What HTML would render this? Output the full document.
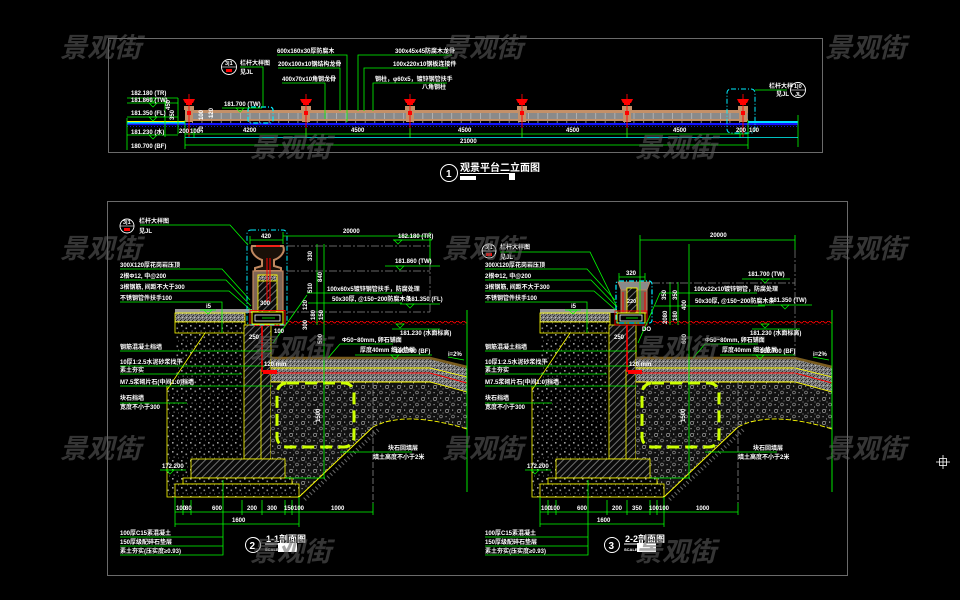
<!DOCTYPE html>
<html><head><meta charset="utf-8"><style>
html,body{margin:0;padding:0;background:#000;}
svg{display:block}
text{font-family:"Liberation Sans","Noto Sans CJK SC",sans-serif;fill:#fff;font-size:6px;font-weight:bold}
.t{font-size:5.5px}
.wm{font-family:"Liberation Sans","Noto Sans CJK SC",sans-serif;font-size:27px;font-style:italic;font-weight:bold;fill:#606060;fill-opacity:.55}
</style></head><body>
<svg width="960" height="600" viewBox="0 0 960 600" xmlns="http://www.w3.org/2000/svg">
<defs>
<pattern id="dots" width="9" height="9" patternUnits="userSpaceOnUse">
 <rect width="9" height="9" fill="#000"/>
 <rect x="1" y="1" width="1.6" height="1.6" fill="#a0a0a0"/>
 <rect x="5.5" y="3.5" width="1.6" height="1.6" fill="#8c8c8c"/>
 <rect x="2.5" y="6.5" width="1.2" height="1.2" fill="#7a7a7a"/>
 <rect x="7" y="7.5" width="1" height="1" fill="#666"/>
</pattern>
<pattern id="fine" width="4" height="4" patternUnits="userSpaceOnUse">
 <rect width="4" height="4" fill="#808080"/>
 <rect x="0" y="0" width="1" height="1" fill="#222"/>
 <rect x="2" y="1" width="1" height="1" fill="#c0c0c0"/>
 <rect x="1" y="3" width="1" height="1" fill="#333"/>
 <rect x="3" y="2" width="1" height="1" fill="#444"/>
</pattern>
<pattern id="rubble" width="12" height="12" patternUnits="userSpaceOnUse">
 <rect width="12" height="12" fill="#111"/>
 <circle cx="3" cy="3" r="1.6" fill="none" stroke="#9a9a9a" stroke-width=".7"/>
 <circle cx="9" cy="8.5" r="1.4" fill="none" stroke="#8a8a8a" stroke-width=".7"/>
 <rect x="8" y="1.5" width="1.2" height="1.2" fill="#aaa"/>
 <rect x="1.5" y="8" width="1.2" height="1.2" fill="#999"/>
 <rect x="5.5" y="5.5" width="1" height="1" fill="#888"/>
 <rect x="10.5" y="4.5" width="1" height="1" fill="#888"/>
 <rect x="5" y="10.5" width="1" height="1" fill="#aaa"/>
 <rect x="4.5" y="1" width=".8" height=".8" fill="#777"/>
</pattern>
<pattern id="hatch" width="5" height="5" patternUnits="userSpaceOnUse" patternTransform="rotate(45)">
 <rect width="5" height="5" fill="#0a0a0a"/>
 <line x1="0.5" y1="0" x2="0.5" y2="5" stroke="#8a8a8a" stroke-width="0.8"/>
</pattern>
<pattern id="wave" width="6" height="4" patternUnits="userSpaceOnUse">
 <path d="M0,2 Q1.5,0 3,2 T6,2" fill="none" stroke="#f00" stroke-width=".9"/>
</pattern>
<pattern id="deck" width="9.6" height="6" patternUnits="userSpaceOnUse">
 <rect width="9.6" height="6" fill="#8a8a8a"/>
 <rect x="0" width=".8" height="6" fill="#b8b8b8"/>
</pattern>
<pattern id="ticks" width="9.6" height="3" patternUnits="userSpaceOnUse">
 <rect width="9.6" height="3" fill="#000"/>
 <rect x="0" y="0" width="9.6" height=".6" fill="#bbb"/>
 <rect x="0" width=".7" height="3" fill="#bbb"/>
</pattern>
<g id="tp">
 <rect x="-5" y="106" width="10" height="4" fill="#c49068"/>
 <rect x="-4" y="110" width="8" height="12" fill="#c49068"/>
 <polygon points="-6,99 6,99 4,103 -4,103" fill="#f00"/>
 <rect x="-3" y="103" width="6" height="2" fill="#f00"/>
 <rect x="-2" y="111" width="4" height="4" fill="#f00"/>
 <line x1="0" y1="94" x2="0" y2="137" stroke="#f00" stroke-width=".9"/>
</g>
<g id="tri"><polygon points="-4,0 4,0 0,4" fill="none" stroke="#0f0" stroke-width=".7"/></g>

<g id="s2">
 <polygon points="175,333 244,333 244,497 167,497 167,386 175,386" fill="url(#dots)"/>
 <line x1="205" y1="333" x2="167" y2="390" stroke="#ff0" stroke-width=".8"/>
 <polyline points="167,386 167,497 299,497" fill="none" stroke="#ff0" stroke-width=".8"/>
 <rect x="175" y="309" width="77" height="4" fill="#9a9a9a"/>
 <rect x="175" y="313" width="70" height="9" fill="url(#fine)" stroke="#ff0" stroke-width=".8"/>
 <rect x="175" y="322" width="70" height="11" fill="url(#dots)" stroke="#ff0" stroke-width=".8"/>
 <rect x="244" y="325" width="27" height="134" fill="url(#hatch)" stroke="#ff0" stroke-width=".8"/>
 <line x1="261" y1="370" x2="261" y2="459" stroke="#ff0" stroke-width=".8"/>
 <line x1="262" y1="325" x2="262" y2="372" stroke="#f00" stroke-width="1.6"/>
 <polygon points="271,382 430,382 467,392 467,429 440,421 405,418 385,422 373,427 299,497 292,497 292,478 285,478 285,459 271,459" fill="url(#rubble)"/>
 <path d="M373,427 Q405,410 467,429" stroke="#ff0" fill="none" stroke-width=".9" stroke-dasharray="5 2"/>
 <line x1="373" y1="427" x2="299" y2="497" stroke="#ff0" stroke-width=".9"/>
 <line x1="378" y1="430" x2="304" y2="500" stroke="#666" stroke-width="4" stroke-dasharray="1 3"/>
 <rect x="191" y="459" width="94" height="19" fill="url(#hatch)" stroke="#ff0" stroke-width=".8"/>
 <rect x="183" y="478" width="109" height="6" fill="url(#dots)" stroke="#ff0" stroke-width=".8"/>
 <rect x="175" y="484" width="124" height="13" fill="url(#dots)" stroke="#ff0" stroke-width=".8"/>
 <polygon points="271,358 430,358 467,367 467,392 430,382 271,382" fill="url(#fine)"/>
 <polyline points="271,358 430,358 467,367" fill="none" stroke="#7a5c1e" stroke-width="2.5"/>
 <polyline points="271,368 430,368 467,377" fill="none" stroke="#ff0" stroke-width=".9"/>
 <polyline points="275,373 430,373 467,383" fill="none" stroke="#f00" stroke-width="1"/>
 <polyline points="271,382 430,382 467,392" fill="none" stroke="#ff0" stroke-width=".9"/>
 <rect x="263" y="370" width="14" height="4" fill="#f00"/>
 <rect x="277" y="383" width="77" height="64" rx="10" fill="none" stroke="#ccff00" stroke-width="3" stroke-dasharray="12 6"/>
 <line x1="373" y1="382" x2="373" y2="503" stroke="#888" stroke-width=".8" stroke-dasharray="6 2"/>
 <rect x="288" y="321" width="179" height="4" fill="url(#wave)"/>
 <line x1="467" y1="310" x2="467" y2="492" stroke="#0f0" stroke-width=".9"/>
 <line x1="324" y1="244" x2="324" y2="478" stroke="#0f0" stroke-width=".8"/>
 <line x1="285" y1="478" x2="325" y2="478" stroke="#0f0" stroke-width=".8"/>
 <g stroke="#0f0" stroke-width=".8">
  <line x1="175" y1="512" x2="373" y2="512"/>
  <line x1="175" y1="524" x2="299" y2="524"/>
  <line x1="175" y1="497" x2="175" y2="527"/><line x1="183" y1="500" x2="183" y2="515"/>
  <line x1="191" y1="500" x2="191" y2="515"/><line x1="242" y1="500" x2="242" y2="515"/>
  <line x1="262" y1="500" x2="262" y2="515"/><line x1="285" y1="500" x2="285" y2="515"/>
  <line x1="292" y1="500" x2="292" y2="515"/><line x1="299" y1="497" x2="299" y2="527"/>
  <line x1="373" y1="503" x2="373" y2="515"/>
  <polyline points="120,269 222,269 250,300" fill="none"/>
  <polyline points="120,280 226,280 251,306" fill="none"/>
  <polyline points="120,291 229,291 253,312" fill="none"/>
  <polyline points="120,302 222,302 222,333" fill="none"/>
  <line x1="120" y1="351" x2="272" y2="351"/>
  <line x1="120" y1="366" x2="265" y2="366"/>
  <line x1="120" y1="374" x2="242" y2="374"/>
  <line x1="120" y1="386" x2="272" y2="386"/>
  <line x1="120" y1="403" x2="187" y2="403"/>
  <polyline points="223,480 223,555 120,555" fill="none"/>
  <line x1="120" y1="537" x2="223" y2="537"/>
  <line x1="120" y1="546" x2="223" y2="546"/>
  <line x1="200" y1="310" x2="216" y2="310"/>
  <line x1="340" y1="452" x2="412" y2="452"/>
  <line x1="160" y1="470" x2="186" y2="470"/>
  <line x1="340" y1="344" x2="393" y2="344"/><line x1="340" y1="344" x2="328" y2="358"/>
  <line x1="355" y1="355" x2="398" y2="355"/>
  <line x1="448" y1="357" x2="464" y2="360"/>
 </g>
</g>
</defs>

<rect x="108.5" y="38.5" width="714" height="114" fill="none" stroke="#6a6a6a"/>
<rect x="185" y="110" width="563" height="3" fill="#c49068"/>
<rect x="185" y="113" width="563" height="6" fill="url(#deck)"/>
<rect x="185" y="119" width="563" height="2" fill="#c49068"/>
<rect x="185" y="121" width="563" height="3" fill="url(#ticks)"/>
<rect x="127" y="123" width="671" height="2.2" fill="#1414ff"/>
<line x1="127" y1="126.5" x2="798" y2="126.5" stroke="#22f" stroke-width=".8" stroke-dasharray="1 2"/>
<rect x="127" y="121" width="58" height="1" fill="#ff0"/>
<rect x="127" y="122" width="58" height="1.5" fill="#00e0ff"/>
<rect x="748" y="121" width="50" height="2" fill="#00e0ff"/>
<use href="#tp" x="189"/><use href="#tp" x="306"/><use href="#tp" x="410"/>
<use href="#tp" x="522"/><use href="#tp" x="627"/><use href="#tp" x="743"/>
<rect x="248" y="107" width="25" height="16" rx="3" fill="none" stroke="#0ef" stroke-width="1.2" stroke-dasharray="5 2 1 2"/>
<rect x="727" y="89" width="28" height="44" rx="4" fill="none" stroke="#0ef" stroke-width="1" stroke-dasharray="5 2 1 2"/>
<g stroke="#0f0" stroke-width=".8" fill="none">
 <line x1="185" y1="134" x2="748" y2="134"/>
 <line x1="185" y1="145" x2="748" y2="145"/>
 <line x1="798" y1="115" x2="798" y2="147"/>
 <line x1="185" y1="120" x2="185" y2="149"/>
 <line x1="748" y1="120" x2="748" y2="149"/>
 <line x1="306" y1="128" x2="306" y2="138"/><line x1="410" y1="128" x2="410" y2="138"/>
 <line x1="522" y1="128" x2="522" y2="138"/><line x1="627" y1="128" x2="627" y2="138"/>
 <line x1="194" y1="128" x2="194" y2="138"/><line x1="740" y1="128" x2="740" y2="138"/>
 <line x1="127" y1="98" x2="178" y2="98"/><line x1="127" y1="103" x2="178" y2="103"/>
 <line x1="127" y1="117" x2="178" y2="117"/><line x1="127" y1="135" x2="178" y2="135"/>
 <line x1="127" y1="118" x2="127" y2="150"/>
 <line x1="165" y1="98" x2="165" y2="137"/><line x1="178" y1="98" x2="178" y2="134"/>
 <line x1="222" y1="108" x2="262" y2="108"/>
 <polyline points="240,67 263,67 263,107"/>
 <polyline points="277,55 347,55 347,122"/>
 <polyline points="278,68 340,68 340,111"/>
 <polyline points="282,83 325,83 325,119"/>
 <polyline points="452,55 358,55 358,111"/>
 <polyline points="448,68 364,68 364,111"/>
 <polyline points="447,83 373,83 373,111"/>
 <polyline points="755,90 787,90"/>
</g>
<line x1="185" y1="137.5" x2="798" y2="137.5" stroke="#0ff" stroke-width=".8"/>
<use href="#tri" x="153" y="98"/><use href="#tri" x="153" y="103"/><use href="#tri" x="153" y="117"/>
<use href="#tri" x="153" y="135"/><use href="#tri" x="240" y="108"/>
<text x="131" y="95">182.180 (TR)</text>
<text x="131" y="102">181.860 (TW)</text>
<text x="131" y="115">181.350 (FL)</text>
<text x="131" y="134">181.230 (水)</text>
<text x="131" y="148">180.700 (BF)</text>
<text x="224" y="106">181.700 (TW)</text>
<text x="170" y="110" transform="rotate(-90 170 110)">450</text>
<text x="174" y="120" transform="rotate(-90 174 120)">350</text>
<text x="203" y="120" transform="rotate(-90 203 120)">100</text>
<text x="213" y="118" transform="rotate(-90 213 118)">120</text>
<text x="203" y="133" transform="rotate(-90 203 133)">30</text>
<text x="179" y="133">200</text><text x="190" y="133">100</text>
<text x="243" y="132">4200</text><text x="351" y="132">4500</text><text x="458" y="132">4500</text>
<text x="566" y="132">4500</text><text x="673" y="132">4500</text>
<text x="736" y="132">200</text><text x="749" y="132">100</text>
<text x="460" y="143">21000</text>
<circle cx="229" cy="67" r="7.5" fill="#000" stroke="#fff" stroke-width=".9"/>
<line x1="221.5" y1="67" x2="236.5" y2="67" stroke="#fff" stroke-width=".6"/>
<rect x="226" y="69" width="6" height="3" fill="#f00"/>
<text x="225" y="65" class="t">3|1</text>
<text x="240" y="65">栏杆大样图</text><text x="240" y="74">见JL</text>
<text x="277" y="53">600x160x30厚防腐木</text>
<text x="278" y="66">200x100x10钢结构龙骨</text>
<text x="282" y="81">400x70x10角钢龙骨</text>
<text x="395" y="53">300x45x45防腐木龙骨</text>
<text x="393" y="66">100x220x10钢板连接件</text>
<text x="375" y="81">钢柱，φ60x5，镀锌钢管扶手</text>
<text x="422" y="89">八角钢柱</text>
<circle cx="798" cy="90" r="7.5" fill="#000" stroke="#fff" stroke-width=".9"/>
<line x1="790.5" y1="90" x2="805.5" y2="90" stroke="#fff" stroke-width=".6"/>
<text x="794" y="88" class="t">1|0</text><text x="795" y="96" class="t">JL</text>
<text x="769" y="88">栏杆大样</text><text x="776" y="96">见JL</text>
<circle cx="449" cy="173" r="8.5" fill="#000" stroke="#fff" stroke-width="1"/>
<text x="446" y="177" style="font-size:10px">1</text>
<text x="460" y="171" style="font-size:10px">观景平台二立面图</text>
<line x1="460" y1="173.5" x2="515" y2="173.5" stroke="#fff" stroke-width="1"/>
<rect x="460" y="176" width="16" height="4" fill="#fff"/>
<rect x="509" y="174" width="6" height="6" fill="#fff"/>

<rect x="107.5" y="201.5" width="740" height="374" fill="none" stroke="#6a6a6a"/>

<use href="#s2"/>
<use href="#s2" x="365"/>

<g>
 <path d="M252,246 C250,252 256,258 262,260 L262,266 L255,268 L255,271 L281,271 L281,268 L274,266 L274,260 C280,258 286,252 283,246 Z" fill="#1a1008" stroke="#c08860" stroke-width="2"/>
 <line x1="256" y1="246" x2="280" y2="246" stroke="#f00" stroke-width="1.6"/>
 <rect x="253" y="271" width="30" height="41" fill="#7d6555" stroke="#c08860" stroke-width="1.2"/>
 <rect x="258" y="275" width="19" height="37" fill="url(#hatch)" stroke="#ff0" stroke-width=".8"/>
 <rect x="258" y="275" width="19" height="6" fill="url(#fine)" stroke="#ff0" stroke-width=".8"/>
 <line x1="267" y1="258" x2="267" y2="302" stroke="#f00" stroke-width="1"/>
 <line x1="270" y1="258" x2="270" y2="302" stroke="#f00" stroke-width="1"/>
 <rect x="250" y="310.5" width="35" height="15" fill="none" stroke="#f00" stroke-width=".9"/>
 <rect x="252" y="312" width="31" height="12" fill="#000" stroke="#ff0" stroke-width="1"/>
 <rect x="255" y="315" width="25" height="6" fill="none" stroke="#fff" stroke-width=".8"/>
 <line x1="262" y1="318" x2="275" y2="318" stroke="#0f0" stroke-width=".8"/>
 <rect x="247" y="230" width="40" height="95" rx="4" fill="none" stroke="#0ef" stroke-width="1" stroke-dasharray="5 2 1 2"/>
 <text x="260" y="305">300</text>
</g>
<g stroke="#0f0" stroke-width=".8" fill="none">
 <line x1="250" y1="240" x2="283" y2="240"/><line x1="250" y1="236" x2="250" y2="244"/><line x1="283" y1="232" x2="283" y2="244"/>
 <line x1="283" y1="236" x2="430" y2="236"/><line x1="430" y1="232" x2="430" y2="262"/>
 <line x1="317" y1="244" x2="317" y2="325"/>
 <line x1="393" y1="240" x2="432" y2="240"/>
 <line x1="385" y1="266" x2="440" y2="266"/>
 <line x1="400" y1="304" x2="440" y2="304"/>
 <line x1="392" y1="329" x2="440" y2="329"/>
 <line x1="390" y1="355" x2="432" y2="355"/>
 <polyline points="140,225 230,225 248,245"/>
 <line x1="307" y1="293" x2="402" y2="293"/><line x1="307" y1="295" x2="273" y2="343"/>
 <line x1="308" y1="303" x2="402" y2="303"/>
</g>
<g stroke="#888" stroke-width=".7" stroke-dasharray="8 2 2 2" fill="none">
 <line x1="287" y1="246" x2="430" y2="246"/><line x1="287" y1="271" x2="430" y2="271"/>
 <line x1="287" y1="312" x2="430" y2="312"/><line x1="430" y1="262" x2="430" y2="312"/>
</g>
<use href="#tri" x="398" y="240"/><use href="#tri" x="400" y="266"/><use href="#tri" x="410" y="304"/>
<use href="#tri" x="400" y="324"/><use href="#tri" x="395" y="355"/><use href="#tri" x="170" y="470"/>
<use href="#tri" x="208" y="310"/>
<text x="261" y="238">420</text>
<text x="343" y="233">20000</text>
<text x="398" y="238">182.180 (TR)</text>
<text x="395" y="263">181.860 (TW)</text>
<text x="408" y="301">181.350 (FL)</text>
<text x="400" y="335">181.230 (水面标高)</text>
<text x="395" y="353">180.700 (BF)</text>
<text x="327" y="291">100x60x5镀锌钢管扶手，防腐处理</text>
<text x="332" y="301">50x30厚, @150~200防腐木条</text>
<text x="342" y="342">Φ50~80mm, 卵石铺面</text>
<text x="360" y="352">厚度40mm 细沙垫层</text>
<text x="448" y="356">i=2%</text>
<text x="312" y="261" transform="rotate(-90 312 261)">330</text>
<text x="322" y="282" transform="rotate(-90 322 282)">840</text>
<text x="312" y="293" transform="rotate(-90 312 293)">510</text>
<text x="307" y="310" transform="rotate(-90 307 310)">120</text>
<text x="315" y="320" transform="rotate(-90 315 320)">180</text>
<text x="323" y="320" transform="rotate(-90 323 320)">150</text>
<text x="307" y="330" transform="rotate(-90 307 330)">300</text>
<text x="322" y="344" transform="rotate(-90 322 344)">500</text>
<text x="320" y="422" transform="rotate(-90 320 422)">1500</text>
<text x="274" y="333">100</text>
<text x="249" y="339">250</text>
<text x="264" y="366">120 mm</text>
<text x="206" y="308">i5</text>
<circle cx="127" cy="226" r="7" fill="#000" stroke="#fff" stroke-width=".9"/>
<line x1="120" y1="226" x2="134" y2="226" stroke="#fff" stroke-width=".6"/>
<rect x="124" y="228" width="6" height="3" fill="#f00"/>
<text x="123" y="224" class="t">3|1</text>
<text x="139" y="223">栏杆大样图</text><text x="139" y="233">见JL</text>
<text x="120" y="267">300X120厚花岗岩压顶</text>
<text x="120" y="278">2根Φ12, 中@200</text>
<text x="120" y="289">3根钢筋, 间距不大于300</text>
<text x="120" y="300">不锈钢管件扶手100</text>
<text x="120" y="349">钢筋混凝土挡墙</text>
<text x="120" y="364">10厚1:2.5水泥砂浆找平</text>
<text x="120" y="372">素土夯实</text>
<text x="120" y="384">M7.5浆砌片石(中间1:0)挡墙</text>
<text x="120" y="400">块石挡墙</text><text x="120" y="409">宽度不小于300</text>
<text x="162" y="468">172.200</text>
<text x="388" y="450">块石回填层</text><text x="373" y="459">填土高度不小于2米</text>
<text x="176" y="510">100</text><text x="185" y="510">80</text><text x="212" y="510">600</text>
<text x="247" y="510">200</text><text x="267" y="510">300</text><text x="284" y="510">150</text>
<text x="294" y="510">100</text><text x="331" y="510">1000</text>
<text x="232" y="522">1600</text>
<text x="120" y="535">100厚C15素混凝土</text>
<text x="120" y="544">150厚级配碎石垫层</text>
<text x="120" y="553">素土夯实(压实度≥0.93)</text>
<circle cx="253" cy="545" r="7.5" fill="#000" stroke="#fff" stroke-width="1"/>
<text x="249.5" y="549" style="font-size:10px">2</text>
<text x="266" y="542" style="font-size:9px">1-1剖面图</text>
<rect x="278" y="543" width="19" height="9" fill="#fff"/>
<line x1="265" y1="544" x2="297" y2="544" stroke="#fff"/>
<text x="265" y="551" class="t" style="font-size:4px">SCALE</text>

<g>
 <polygon points="618,282 650,282 647,290 621,290" fill="#8a8a8a" stroke="#c08860" stroke-width=".8"/>
 <rect x="621" y="290" width="26" height="23" fill="#7d6555" stroke="#c08860" stroke-width="1"/>
 <line x1="623" y1="292" x2="623" y2="312" stroke="#f00" stroke-width="1"/>
 <line x1="645" y1="292" x2="645" y2="312" stroke="#f00" stroke-width="1"/>
 <rect x="627" y="288" width="10" height="25" fill="url(#hatch)" stroke="#ff0" stroke-width=".9"/>
 <rect x="615" y="311" width="32" height="14" fill="none" stroke="#f00" stroke-width=".9"/>
 <rect x="617" y="313" width="28" height="10" fill="#000" stroke="#ff0" stroke-width="1"/>
 <rect x="620" y="315" width="22" height="6" fill="none" stroke="#fff" stroke-width=".8"/>
 <line x1="626" y1="318" x2="638" y2="318" stroke="#0f0" stroke-width=".8"/>
 <rect x="616" y="281" width="36" height="42" rx="3" fill="none" stroke="#0ef" stroke-width="1.2" stroke-dasharray="5 2 1 2"/>
 <text x="627" y="303" class="t">220</text>
</g>
<g stroke="#0f0" stroke-width=".8" fill="none">
 <line x1="619" y1="277" x2="645" y2="277"/><line x1="619" y1="273" x2="619" y2="281"/><line x1="645" y1="273" x2="645" y2="281"/>
 <line x1="640" y1="240" x2="795" y2="240"/><line x1="640" y1="235" x2="640" y2="315"/><line x1="795" y1="235" x2="795" y2="250"/>
 <line x1="670" y1="282" x2="670" y2="325"/><line x1="678" y1="282" x2="678" y2="325"/>
 <line x1="742" y1="279" x2="790" y2="279"/>
 <line x1="758" y1="305" x2="812" y2="305"/>
 <line x1="752" y1="329" x2="800" y2="329"/>
 <line x1="752" y1="355" x2="795" y2="355"/>
 <polyline points="500,252 590,252 617,307"/>
 <line x1="660" y1="293" x2="757" y2="293"/><line x1="660" y1="293" x2="638" y2="343"/>
 <line x1="655" y1="306" x2="765" y2="306"/>
</g>
<g stroke="#888" stroke-width=".7" stroke-dasharray="8 2 2 2" fill="none">
 <line x1="652" y1="283" x2="795" y2="283"/><line x1="795" y1="250" x2="795" y2="385"/>
</g>
<use href="#tri" x="765" y="279"/><use href="#tri" x="785" y="305"/><use href="#tri" x="765" y="324"/>
<use href="#tri" x="760" y="355"/><use href="#tri" x="535" y="470"/><use href="#tri" x="573" y="310"/>
<text x="626" y="275">320</text>
<text x="710" y="237">20000</text>
<text x="748" y="276">181.700 (TW)</text>
<text x="770" y="302">181.350 (TW)</text>
<text x="750" y="335">181.230 (水面标高)</text>
<text x="760" y="353">180.700 (BF)</text>
<text x="694" y="291">100x22x10镀锌钢管，防腐处理</text>
<text x="695" y="303">50x30厚, @150~200防腐木条</text>
<text x="705" y="342">Φ50~80mm, 卵石铺面</text>
<text x="722" y="352">厚度40mm 细沙垫层</text>
<text x="813" y="356">i=2%</text>
<text x="666" y="300" transform="rotate(-90 666 300)">350</text>
<text x="677" y="300" transform="rotate(-90 677 300)">350</text>
<text x="686" y="310" transform="rotate(-90 686 310)">400</text>
<text x="667" y="324" transform="rotate(-90 667 324)">2080</text>
<text x="677" y="321" transform="rotate(-90 677 321)">180</text>
<text x="686" y="344" transform="rotate(-90 686 344)">600</text>
<text x="685" y="422" transform="rotate(-90 685 422)">1500</text>
<text x="642" y="331">DO</text>
<text x="614" y="339">250</text>
<text x="629" y="366">120 mm</text>
<text x="571" y="308">i5</text>
<circle cx="489" cy="251" r="7" fill="#000" stroke="#fff" stroke-width=".9"/>
<line x1="482" y1="251" x2="496" y2="251" stroke="#fff" stroke-width=".6"/>
<rect x="486" y="253" width="6" height="3" fill="#f00"/>
<text x="485" y="249" class="t">3|1</text>
<text x="500" y="249">栏杆大样图</text><text x="500" y="259">见JL</text>
<text x="485" y="267">300X120厚花岗岩压顶</text>
<text x="485" y="278">2根Φ12, 中@200</text>
<text x="485" y="289">3根钢筋, 间距不大于300</text>
<text x="485" y="300">不锈钢管件扶手100</text>
<text x="485" y="349">钢筋混凝土挡墙</text>
<text x="485" y="364">10厚1:2.5水泥砂浆找平</text>
<text x="485" y="372">素土夯实</text>
<text x="485" y="384">M7.5浆砌片石(中间1:0)挡墙</text>
<text x="485" y="400">块石挡墙</text><text x="485" y="409">宽度不小于300</text>
<text x="527" y="468">172.200</text>
<text x="753" y="450">块石回填层</text><text x="738" y="459">填土高度不小于2米</text>
<text x="541" y="510">100</text><text x="550" y="510">100</text><text x="577" y="510">600</text>
<text x="612" y="510">200</text><text x="632" y="510">350</text><text x="649" y="510">100</text>
<text x="659" y="510">100</text><text x="696" y="510">1000</text>
<text x="597" y="522">1600</text>
<text x="485" y="535">100厚C15素混凝土</text>
<text x="485" y="544">150厚级配碎石垫层</text>
<text x="485" y="553">素土夯实(压实度≥0.93)</text>
<circle cx="612" cy="545" r="7.5" fill="#000" stroke="#fff" stroke-width="1"/>
<text x="608.5" y="549" style="font-size:10px">3</text>
<text x="625" y="542" style="font-size:9px">2-2剖面图</text>
<rect x="637" y="543" width="19" height="9" fill="#fff"/>
<line x1="624" y1="544" x2="656" y2="544" stroke="#fff"/>
<text x="624" y="551" class="t" style="font-size:4px">SCALE</text>

<g stroke="#fff" stroke-width=".8" fill="none">
 <rect x="939.5" y="458.5" width="7" height="7"/>
 <line x1="943" y1="455" x2="943" y2="469"/><line x1="936" y1="462" x2="950" y2="462"/>
</g>

<text class="wm" x="60" y="57">景观街</text>
<text class="wm" x="442" y="57">景观街</text>
<text class="wm" x="825" y="57">景观街</text>
<text class="wm" x="250" y="157">景观街</text>
<text class="wm" x="635" y="157">景观街</text>
<text class="wm" x="60" y="258">景观街</text>
<text class="wm" x="442" y="258">景观街</text>
<text class="wm" x="825" y="258">景观街</text>
<text class="wm" x="250" y="358">景观街</text>
<text class="wm" x="635" y="358">景观街</text>
<text class="wm" x="60" y="458">景观街</text>
<text class="wm" x="442" y="458">景观街</text>
<text class="wm" x="825" y="458">景观街</text>
<text class="wm" x="250" y="561">景观街</text>
<text class="wm" x="635" y="561">景观街</text>
</svg>
</body></html>
